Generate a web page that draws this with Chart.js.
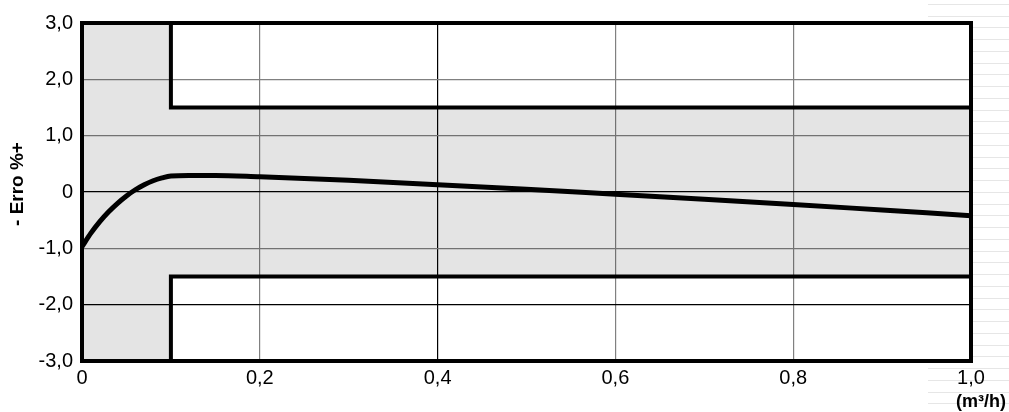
<!DOCTYPE html>
<html><head><meta charset="utf-8">
<script src="https://cdn.jsdelivr.net/npm/chart.js@4.4.1/dist/chart.umd.min.js"></script>
<style>
html,body{margin:0;padding:0;background:#fff;overflow:hidden;}
#wrap{position:relative;width:1009px;height:412px;}
#bg{position:absolute;left:928px;top:0;width:81px;height:412px;
background:repeating-linear-gradient(to bottom, rgba(0,0,0,0) 0px, rgba(0,0,0,0) 10.75px, #e6e6e6 10.75px, #e6e6e6 11.75px);
background-position:0 -7px;}
canvas{position:absolute;left:0;top:0;}
</style></head><body>
<div id="wrap"><div id="bg"></div><canvas id="c" width="1009" height="412"></canvas></div>
<script>
// Flow (m3/h) and error (%) of the meter curve
const flowX  = [0, 0.01, 0.02, 0.03, 0.04, 0.05, 0.06, 0.07, 0.08, 0.09, 0.10, 0.12, 0.15, 0.20, 0.30, 0.40, 0.50, 0.60, 0.70, 0.80, 0.90, 1.00];
const errorY = [-0.97, -0.73, -0.525, -0.35, -0.20, -0.07, 0.04, 0.13, 0.20, 0.25, 0.285, 0.295, 0.295, 0.27, 0.21, 0.13, 0.05, -0.04, -0.13, -0.22, -0.32, -0.42];
// Tolerance limits
const limitX     = [0, 0.1, 0.1, 1.0];
const upperLimit = [3, 3, 1.5, 1.5];
const lowerLimit = [-3, -3, -1.5, -1.5];
// Axis labels
const xTickLabels = ['0', '0,2', '0,4', '0,6', '0,8', '1,0'];
const yTickLabels = ['-3,0', '-2,0', '-1,0', '0', '1,0', '2,0', '3,0'];
const yTitle = '- Erro %+';
const xUnit = '(m\u00B3/h)';

const FONT = "'Liberation Sans', Arial, Helvetica, sans-serif";

// Closed tolerance polygon: upper limit forward, lower limit backward
const poly = [];
for (let i = 0; i < limitX.length; i++) poly.push({x: limitX[i], y: upperLimit[i]});
for (let i = limitX.length - 1; i >= 0; i--) poly.push({x: limitX[i], y: lowerLimit[i]});
poly.push({x: limitX[0], y: upperLimit[0]});

const curve = flowX.map((x, i) => ({x: x, y: errorY[i]}));

const framePlugin = {
  id: 'frame',
  beforeDraw(chart) {
    const {ctx, chartArea: a} = chart;
    ctx.save();
    ctx.fillStyle = '#ffffff';
    ctx.fillRect(a.left, a.top, a.right - a.left, a.bottom - a.top);
    ctx.restore();
  },
  afterDatasetsDraw(chart) {
    const {ctx, chartArea: a} = chart;
    ctx.save();
    ctx.strokeStyle = '#000';
    ctx.lineWidth = 4;
    ctx.strokeRect(a.left, a.top, a.right - a.left, a.bottom - a.top);
    ctx.restore();
  },
  afterDraw(chart) {
    const {ctx, chartArea: a} = chart;
    ctx.save();
    ctx.fillStyle = '#000';
    ctx.font = 'bold 19px ' + FONT;
    ctx.textAlign = 'center';
    ctx.textBaseline = 'middle';
    ctx.translate(17.5, 184);
    ctx.rotate(-Math.PI / 2);
    ctx.fillText(yTitle, 0, 0);
    ctx.restore();
    ctx.save();
    ctx.fillStyle = '#000';
    ctx.font = 'bold 18px ' + FONT;
    ctx.textAlign = 'center';
    ctx.textBaseline = 'middle';
    ctx.fillText(xUnit, a.right + 10, a.bottom + 41);
    ctx.restore();
  }
};

new Chart(document.getElementById('c'), {
  type: 'line',
  data: {
    datasets: [
      {
        label: 'curve',
        data: curve,
        borderColor: '#000',
        borderWidth: 5,
        pointRadius: 0,
        fill: false,
        cubicInterpolationMode: 'monotone',
        order: 0
      },
      {
        label: 'limits',
        data: poly,
        borderColor: '#000',
        borderWidth: 4,
        borderJoinStyle: 'miter',
        backgroundColor: 'rgba(0,0,0,0.106)',
        pointRadius: 0,
        tension: 0,
        fill: 'shape',
        order: 1
      }
    ]
  },
  options: {
    responsive: false,
    animation: false,
    devicePixelRatio: 1,
    layout: {padding: {left: 0, right: 38, top: 23, bottom: 0}},
    plugins: {legend: {display: false}, tooltip: {enabled: false}},
    scales: {
      x: {
        type: 'linear',
        min: 0, max: 1,
        ticks: {
          stepSize: 0.2,
          autoSkip: false,
          maxRotation: 0,
          padding: 5,
          color: '#000',
          font: {family: FONT, size: 20},
          callback: (v, i) => xTickLabels[i]
        },
        grid: {
          drawTicks: false,
          lineWidth: 1.2,
          color: (c) => (c.tick && Math.abs(c.tick.value - 0.4) < 1e-6) ? '#000' : '#808080'
        },
        border: {display: false},
        afterFit: (s) => { s.height = 51; }
      },
      y: {
        type: 'linear',
        min: -3, max: 3,
        ticks: {
          stepSize: 1,
          autoSkip: false,
          padding: 9,
          color: '#000',
          font: {family: FONT, size: 20},
          callback: (v, i) => yTickLabels[i]
        },
        grid: {
          drawTicks: false,
          lineWidth: 1.2,
          color: (c) => (c.tick && (c.tick.value === 0 || c.tick.value === -2)) ? '#000' : '#808080'
        },
        border: {display: false},
        afterFit: (s) => { s.width = 82; }
      }
    }
  },
  plugins: [framePlugin]
});
</script>
</body></html>
